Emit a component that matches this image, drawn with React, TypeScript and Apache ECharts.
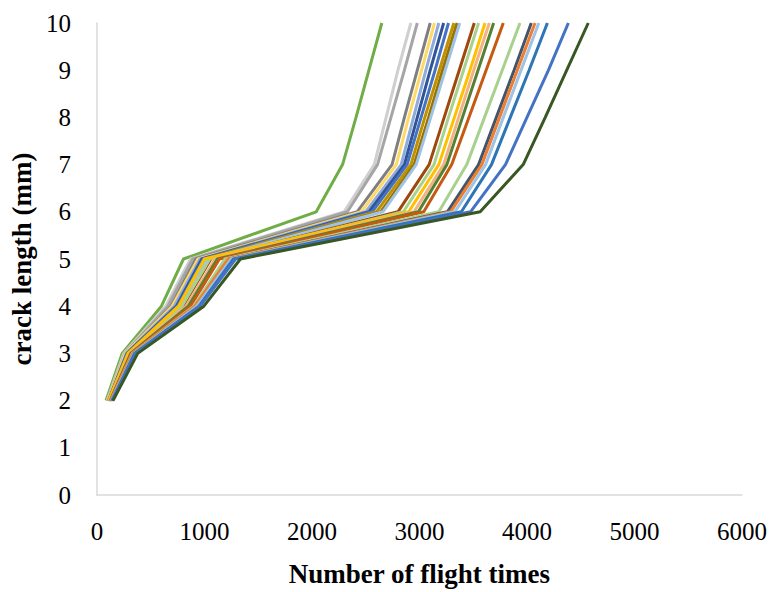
import React, { useEffect, useRef } from "react";
import * as echarts from "echarts";

// crack length levels (mm) at which each curve is sampled
const crackLevels = [2, 3, 4, 5, 6, 7, 8, 9, 10];

// flight times for each curve at the crack levels above
const curve01 = [85, 235, 600, 805, 2040, 2285, 2410, 2530, 2650];
const curve02 = [95, 250, 640, 870, 2300, 2580, 2690, 2800, 2920];
const curve03 = [100, 260, 660, 890, 2330, 2610, 2735, 2860, 2980];
const curve04 = [105, 270, 690, 920, 2420, 2745, 2860, 2980, 3100];
const curve05 = [100, 265, 700, 940, 2460, 2785, 2900, 3020, 3140];
const curve06 = [105, 275, 720, 960, 2500, 2830, 2945, 3060, 3180];
const curve07 = [110, 280, 740, 975, 2530, 2860, 2980, 3100, 3225];
const curve08 = [110, 285, 750, 990, 2560, 2885, 3015, 3145, 3270];
const curve09 = [110, 290, 760, 1000, 2600, 2920, 3050, 3185, 3320];
const curve10 = [115, 295, 770, 1010, 2640, 2950, 3085, 3215, 3350];
const curve11 = [115, 300, 780, 1020, 2660, 2970, 3105, 3240, 3375];
const curve12 = [120, 305, 800, 1060, 2800, 3090, 3230, 3370, 3510];
const curve13 = [115, 300, 790, 1050, 2850, 3135, 3270, 3410, 3550];
const curve14 = [110, 290, 760, 1000, 2900, 3180, 3325, 3470, 3610];
const curve15 = [120, 310, 830, 1100, 2950, 3225, 3365, 3505, 3650];
const curve16 = [125, 315, 850, 1120, 2990, 3255, 3400, 3545, 3690];
const curve17 = [125, 320, 870, 1140, 3040, 3300, 3460, 3620, 3780];
const curve18 = [130, 330, 900, 1190, 3180, 3440, 3605, 3770, 3935];
const curve19 = [135, 340, 920, 1230, 3260, 3550, 3715, 3880, 4040];
const curve20 = [130, 335, 910, 1220, 3290, 3580, 3745, 3910, 4075];
const curve21 = [135, 345, 930, 1250, 3330, 3615, 3780, 3945, 4110];
const curve22 = [140, 350, 950, 1270, 3390, 3670, 3845, 4020, 4190];
const curve23 = [140, 360, 960, 1290, 3475, 3800, 4000, 4200, 4385];
const curve24 = [150, 380, 995, 1335, 3565, 3965, 4170, 4370, 4570];

const curves = [
  curve01, curve02, curve03, curve04, curve05, curve06, curve07, curve08,
  curve09, curve10, curve11, curve12, curve13, curve14, curve15, curve16,
  curve17, curve18, curve19, curve20, curve21, curve22, curve23, curve24,
];

const curveColors = [
  "#70AD47", "#D0CECE", "#A5A5A5", "#7F7F7F", "#FFD966", "#8FAADC",
  "#2F5597", "#4472C4", "#BF9000", "#997300", "#9DC3E6", "#9E480E",
  "#A9D18E", "#FFC000", "#F4B183", "#548235", "#C55A11", "#A9D18E",
  "#44546A", "#ED7D31", "#9DC3E6", "#2E75B6", "#4472C4", "#385723",
];

const xTicks = { min: 0, max: 6000, step: 1000 };
const yTicks = { min: 0, max: 10, step: 1 };

const FONT = "'Liberation Serif', 'Times New Roman', serif";

export default function App() {
  const ref = useRef<HTMLDivElement>(null);

  useEffect(() => {
    if (!ref.current) return;
    const chart = echarts.init(ref.current, null, { renderer: "svg" });
    chart.setOption({
      animation: false,
      backgroundColor: "#ffffff",
      grid: { left: 96, right: 25, top: 23, bottom: 92, containLabel: false },
      xAxis: {
        type: "value",
        min: xTicks.min,
        max: xTicks.max,
        interval: xTicks.step,
        name: "Number of flight times",
        nameLocation: "middle",
        nameGap: 65,
        nameTextStyle: { fontFamily: FONT, fontSize: 27, fontWeight: "bold", color: "#000" },
        axisLine: { show: true, lineStyle: { color: "#D9D9D9", width: 1.5 } },
        axisTick: { show: false },
        splitLine: { show: false },
        axisLabel: {
          fontFamily: FONT,
          fontSize: 25,
          color: "#000",
          margin: 24,
          formatter: (v: number) => String(v),
        },
      },
      yAxis: {
        type: "value",
        min: yTicks.min,
        max: yTicks.max,
        interval: yTicks.step,
        name: "crack length (mm)",
        nameLocation: "middle",
        nameGap: 48,
        nameRotate: 90,
        nameTextStyle: { fontFamily: FONT, fontSize: 27, fontWeight: "bold", color: "#000" },
        axisLine: { show: true, lineStyle: { color: "#D9D9D9", width: 1.5 } },
        axisTick: { show: false },
        splitLine: { show: false },
        axisLabel: {
          fontFamily: FONT,
          fontSize: 25,
          color: "#000",
          margin: 26,
          formatter: (v: number) => String(v),
        },
      },
      series: curves.map((xs, i) => ({
        type: "line",
        name: "curve" + (i + 1),
        data: xs.map((x, j) => [x, crackLevels[j]]),
        showSymbol: false,
        symbol: "none",
        lineStyle: { color: curveColors[i], width: 3 },
        itemStyle: { color: curveColors[i] },
        z: 2,
      })),
    });
    return () => chart.dispose();
  }, []);

  return (
    <div
      ref={ref}
      style={{ position: "fixed", left: 0, top: 0, width: 770, height: 592, background: "#fff" }}
    />
  );
}
